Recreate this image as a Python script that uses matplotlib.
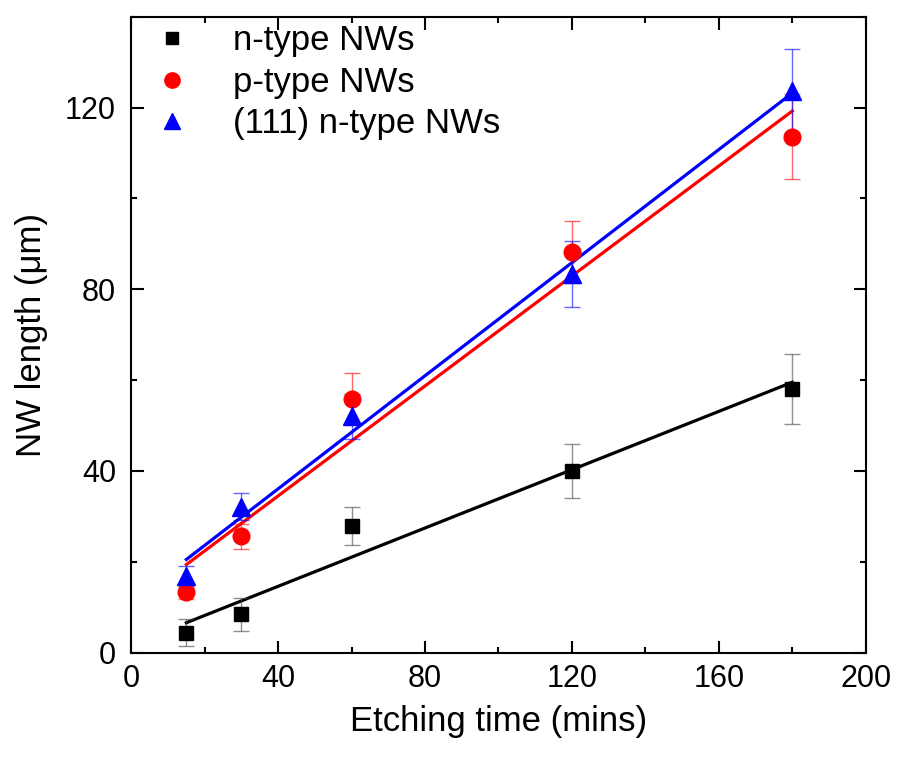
import numpy as np
import matplotlib
matplotlib.use('Agg')
import matplotlib.pyplot as plt
from matplotlib.lines import Line2D
from matplotlib.ticker import MultipleLocator

plt.rcParams['font.family'] = ['Liberation Sans', 'DejaVu Sans']

# etching time (mins)
etch_time = [15, 30, 60, 120, 180]

# NW length (um) and error bars
n_type = [4.4, 8.4, 27.9, 40.0, 58.1]
n_type_err = [2.9, 3.6, 4.2, 6.0, 7.7]
p_type = [13.3, 25.6, 55.9, 88.2, 113.6]
p_type_err = [1.6, 2.7, 5.6, 6.8, 9.3]
n111_type = [16.8, 32.1, 52.0, 83.4, 123.6]
n111_type_err = [2.2, 3.0, 5.0, 7.3, 9.3]

series_names = ['n-type NWs', 'p-type NWs', '(111) n-type NWs']
series_colors = ['black', 'red', 'blue']
series_markers = ['s', 'o', '^']

fig = plt.figure(figsize=(8.99, 7.58), dpi=100)
ax = fig.add_axes([0.146, 0.139, 0.817, 0.839])

x = np.array(etch_time)
all_y = [n_type, p_type, n111_type]
all_err = [n_type_err, p_type_err, n111_type_err]
marker_sizes = [10, 12, 13]

handles = []
for y, err, col, mk, ms, name in zip(all_y, all_err, series_colors,
                                     series_markers, marker_sizes, series_names):
    y = np.array(y)
    # linear fit through the points
    slope, icpt = np.polyfit(x, y, 1)
    xf = np.array([x.min(), x.max()])
    ax.plot(xf, slope * xf + icpt, color=col, lw=2.3, zorder=2)
    ecol = '#444444' if col == 'black' else col
    ax.errorbar(x, y, yerr=err, fmt='none', ecolor=ecol, elinewidth=1.0,
                capsize=6, capthick=1.0, alpha=0.6, zorder=3)
    ax.plot(x, y, ls='none', marker=mk, ms=ms, color=col, mec=col, zorder=4)
    handles.append(Line2D([], [], ls='none', marker=mk, ms=ms - 1, color=col))

ax.set_xlim(0, 200)
ax.set_ylim(0, 140)
ax.xaxis.set_major_locator(MultipleLocator(40))
ax.xaxis.set_minor_locator(MultipleLocator(20))
ax.yaxis.set_major_locator(MultipleLocator(40))
ax.yaxis.set_minor_locator(MultipleLocator(20))
ax.tick_params(which='both', direction='in', top=True, right=True,
               labelsize=22, width=1.5)
ax.tick_params(which='major', length=9)
ax.tick_params(which='minor', length=4.5)
ax.tick_params(axis='x', which='major', pad=8)
ax.tick_params(axis='y', which='major', pad=11)
for sp in ax.spines.values():
    sp.set_linewidth(1.5)

ax.set_xlabel('Etching time (mins)', fontsize=25, labelpad=8)
ax.set_ylabel('NW length (\u03bcm)', fontsize=25, labelpad=12)

ax.legend(handles, series_names, loc='upper left', frameon=False,
          fontsize=25, handletextpad=0.75, labelspacing=0.24,
          bbox_to_anchor=(-0.015, 1.015), borderaxespad=0.1)

fig.savefig('out.png', dpi=100)
